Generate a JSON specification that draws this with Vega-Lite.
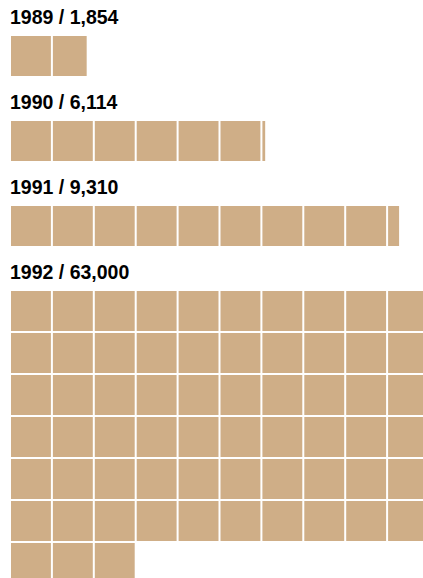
{
  "$schema": "https://vega.github.io/schema/vega-lite/v6.json",
  "padding": {"left": 10, "top": 8, "right": 0, "bottom": 0},
  "background": "white",
  "config": {
    "view": {"stroke": null},
    "title": {"font": "Liberation Sans", "fontSize": 19.5, "fontWeight": "bold", "color": "#000000", "anchor": "start", "offset": 7.5, "dx": -1},
    "concat": {"spacing": 16}
  },
  "data": {"values": [
    {"year": 1989, "row": 0, "start": 0, "end": 1000},
    {"year": 1989, "row": 0, "start": 1000, "end": 1854},
    {"year": 1990, "row": 0, "start": 0, "end": 1000},
    {"year": 1990, "row": 0, "start": 1000, "end": 2000},
    {"year": 1990, "row": 0, "start": 2000, "end": 3000},
    {"year": 1990, "row": 0, "start": 3000, "end": 4000},
    {"year": 1990, "row": 0, "start": 4000, "end": 5000},
    {"year": 1990, "row": 0, "start": 5000, "end": 6000},
    {"year": 1990, "row": 0, "start": 6000, "end": 6114},
    {"year": 1991, "row": 0, "start": 0, "end": 1000},
    {"year": 1991, "row": 0, "start": 1000, "end": 2000},
    {"year": 1991, "row": 0, "start": 2000, "end": 3000},
    {"year": 1991, "row": 0, "start": 3000, "end": 4000},
    {"year": 1991, "row": 0, "start": 4000, "end": 5000},
    {"year": 1991, "row": 0, "start": 5000, "end": 6000},
    {"year": 1991, "row": 0, "start": 6000, "end": 7000},
    {"year": 1991, "row": 0, "start": 7000, "end": 8000},
    {"year": 1991, "row": 0, "start": 8000, "end": 9000},
    {"year": 1991, "row": 0, "start": 9000, "end": 9310},
    {"year": 1992, "row": 0, "start": 0, "end": 1000},
    {"year": 1992, "row": 0, "start": 1000, "end": 2000},
    {"year": 1992, "row": 0, "start": 2000, "end": 3000},
    {"year": 1992, "row": 0, "start": 3000, "end": 4000},
    {"year": 1992, "row": 0, "start": 4000, "end": 5000},
    {"year": 1992, "row": 0, "start": 5000, "end": 6000},
    {"year": 1992, "row": 0, "start": 6000, "end": 7000},
    {"year": 1992, "row": 0, "start": 7000, "end": 8000},
    {"year": 1992, "row": 0, "start": 8000, "end": 9000},
    {"year": 1992, "row": 0, "start": 9000, "end": 10000},
    {"year": 1992, "row": 1, "start": 0, "end": 1000},
    {"year": 1992, "row": 1, "start": 1000, "end": 2000},
    {"year": 1992, "row": 1, "start": 2000, "end": 3000},
    {"year": 1992, "row": 1, "start": 3000, "end": 4000},
    {"year": 1992, "row": 1, "start": 4000, "end": 5000},
    {"year": 1992, "row": 1, "start": 5000, "end": 6000},
    {"year": 1992, "row": 1, "start": 6000, "end": 7000},
    {"year": 1992, "row": 1, "start": 7000, "end": 8000},
    {"year": 1992, "row": 1, "start": 8000, "end": 9000},
    {"year": 1992, "row": 1, "start": 9000, "end": 10000},
    {"year": 1992, "row": 2, "start": 0, "end": 1000},
    {"year": 1992, "row": 2, "start": 1000, "end": 2000},
    {"year": 1992, "row": 2, "start": 2000, "end": 3000},
    {"year": 1992, "row": 2, "start": 3000, "end": 4000},
    {"year": 1992, "row": 2, "start": 4000, "end": 5000},
    {"year": 1992, "row": 2, "start": 5000, "end": 6000},
    {"year": 1992, "row": 2, "start": 6000, "end": 7000},
    {"year": 1992, "row": 2, "start": 7000, "end": 8000},
    {"year": 1992, "row": 2, "start": 8000, "end": 9000},
    {"year": 1992, "row": 2, "start": 9000, "end": 10000},
    {"year": 1992, "row": 3, "start": 0, "end": 1000},
    {"year": 1992, "row": 3, "start": 1000, "end": 2000},
    {"year": 1992, "row": 3, "start": 2000, "end": 3000},
    {"year": 1992, "row": 3, "start": 3000, "end": 4000},
    {"year": 1992, "row": 3, "start": 4000, "end": 5000},
    {"year": 1992, "row": 3, "start": 5000, "end": 6000},
    {"year": 1992, "row": 3, "start": 6000, "end": 7000},
    {"year": 1992, "row": 3, "start": 7000, "end": 8000},
    {"year": 1992, "row": 3, "start": 8000, "end": 9000},
    {"year": 1992, "row": 3, "start": 9000, "end": 10000},
    {"year": 1992, "row": 4, "start": 0, "end": 1000},
    {"year": 1992, "row": 4, "start": 1000, "end": 2000},
    {"year": 1992, "row": 4, "start": 2000, "end": 3000},
    {"year": 1992, "row": 4, "start": 3000, "end": 4000},
    {"year": 1992, "row": 4, "start": 4000, "end": 5000},
    {"year": 1992, "row": 4, "start": 5000, "end": 6000},
    {"year": 1992, "row": 4, "start": 6000, "end": 7000},
    {"year": 1992, "row": 4, "start": 7000, "end": 8000},
    {"year": 1992, "row": 4, "start": 8000, "end": 9000},
    {"year": 1992, "row": 4, "start": 9000, "end": 10000},
    {"year": 1992, "row": 5, "start": 0, "end": 1000},
    {"year": 1992, "row": 5, "start": 1000, "end": 2000},
    {"year": 1992, "row": 5, "start": 2000, "end": 3000},
    {"year": 1992, "row": 5, "start": 3000, "end": 4000},
    {"year": 1992, "row": 5, "start": 4000, "end": 5000},
    {"year": 1992, "row": 5, "start": 5000, "end": 6000},
    {"year": 1992, "row": 5, "start": 6000, "end": 7000},
    {"year": 1992, "row": 5, "start": 7000, "end": 8000},
    {"year": 1992, "row": 5, "start": 8000, "end": 9000},
    {"year": 1992, "row": 5, "start": 9000, "end": 10000},
    {"year": 1992, "row": 6, "start": 0, "end": 1000},
    {"year": 1992, "row": 6, "start": 1000, "end": 2000},
    {"year": 1992, "row": 6, "start": 2000, "end": 3000}
  ]},
  "resolve": {"scale": {"y": "independent", "x": "independent"}},
  "vconcat": [
    {
      "title": "1989 / 1,854",
      "width": 419,
      "height": {"step": 42},
      "transform": [{"filter": "datum.year == 1989"}],
      "mark": {"type": "rect", "color": "#cfae87", "x2Offset": -2},
      "encoding": {
        "x": {"field": "start", "type": "quantitative", "scale": {"domain": [0, 10000], "nice": false, "zero": false}, "axis": null},
        "x2": {"field": "end"},
        "y": {"field": "row", "type": "ordinal", "scale": {"paddingInner": 0.047619, "paddingOuter": 0}, "axis": null}
      }
    },
    {
      "title": "1990 / 6,114",
      "width": 419,
      "height": {"step": 42},
      "transform": [{"filter": "datum.year == 1990"}],
      "mark": {"type": "rect", "color": "#cfae87", "x2Offset": -2},
      "encoding": {
        "x": {"field": "start", "type": "quantitative", "scale": {"domain": [0, 10000], "nice": false, "zero": false}, "axis": null},
        "x2": {"field": "end"},
        "y": {"field": "row", "type": "ordinal", "scale": {"paddingInner": 0.047619, "paddingOuter": 0}, "axis": null}
      }
    },
    {
      "title": "1991 / 9,310",
      "width": 419,
      "height": {"step": 42},
      "transform": [{"filter": "datum.year == 1991"}],
      "mark": {"type": "rect", "color": "#cfae87", "x2Offset": -2},
      "encoding": {
        "x": {"field": "start", "type": "quantitative", "scale": {"domain": [0, 10000], "nice": false, "zero": false}, "axis": null},
        "x2": {"field": "end"},
        "y": {"field": "row", "type": "ordinal", "scale": {"paddingInner": 0.047619, "paddingOuter": 0}, "axis": null}
      }
    },
    {
      "title": "1992 / 63,000",
      "width": 419,
      "height": {"step": 42},
      "transform": [{"filter": "datum.year == 1992"}],
      "mark": {"type": "rect", "color": "#cfae87", "x2Offset": -2},
      "encoding": {
        "x": {"field": "start", "type": "quantitative", "scale": {"domain": [0, 10000], "nice": false, "zero": false}, "axis": null},
        "x2": {"field": "end"},
        "y": {"field": "row", "type": "ordinal", "scale": {"paddingInner": 0.047619, "paddingOuter": 0}, "axis": null}
      }
    }
  ]
}
